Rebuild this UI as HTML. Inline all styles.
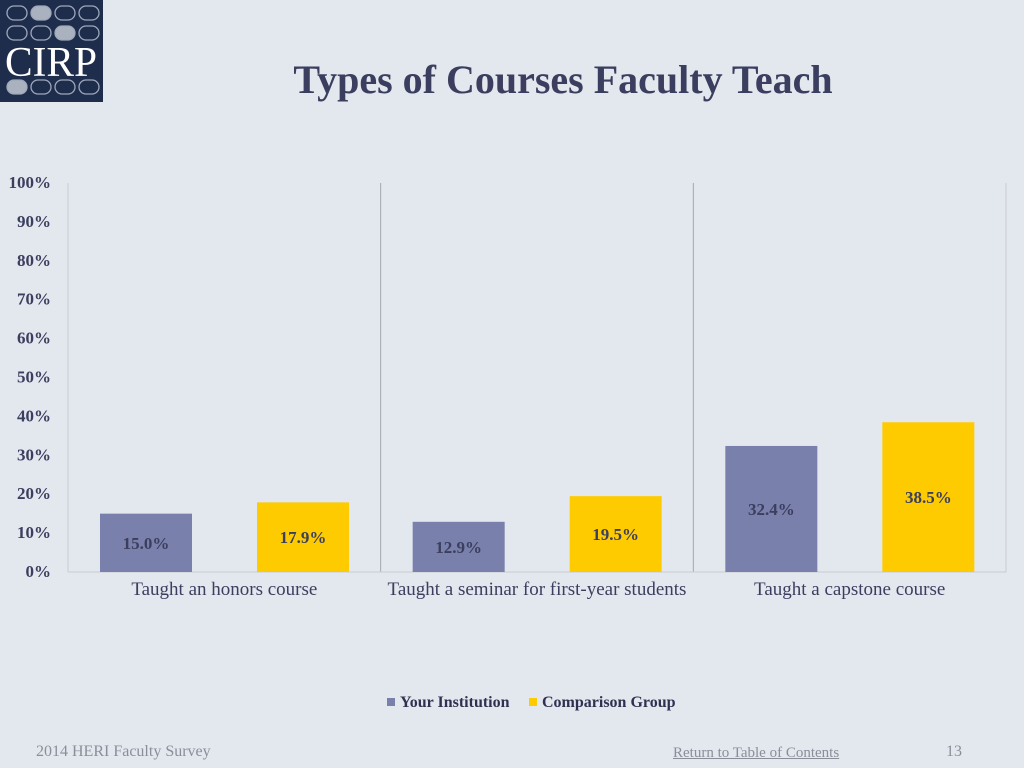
<!DOCTYPE html>
<html><head><meta charset="utf-8"><style>
body{margin:0;width:1024px;height:768px;background:#e3e7ee;font-family:"Liberation Serif",serif;overflow:hidden;position:relative}
#logo{position:absolute;left:0;top:0;width:103px;height:102px;background:#1f2d4d}
.t{position:absolute;white-space:nowrap}
</style></head><body>
<div id="logo">
<svg width="103" height="102">
<g fill="none" stroke="#9fa8bb" stroke-width="1.3">
<rect x="7" y="6" width="20" height="14" rx="7"/><rect x="31" y="6" width="20" height="14" rx="7" fill="#aab2bf"/><rect x="55" y="6" width="20" height="14" rx="7"/><rect x="79" y="6" width="20" height="14" rx="7"/>
<rect x="7" y="26" width="20" height="14" rx="7"/><rect x="31" y="26" width="20" height="14" rx="7"/><rect x="55" y="26" width="20" height="14" rx="7" fill="#aab2bf"/><rect x="79" y="26" width="20" height="14" rx="7"/>
<rect x="7" y="80" width="20" height="14" rx="7" fill="#aab2bf"/><rect x="31" y="80" width="20" height="14" rx="7"/><rect x="55" y="80" width="20" height="14" rx="7"/><rect x="79" y="80" width="20" height="14" rx="7"/>
</g>
<text x="51" y="76" text-anchor="middle" fill="#fff" font-family="Liberation Serif" font-size="42" textLength="92" lengthAdjust="spacingAndGlyphs">CIRP</text>
</svg></div>
<div class="t" style="left:0;width:1126px;top:56px;text-align:center;font-size:40px;font-weight:bold;color:#3b3e5e">Types of Courses Faculty Teach</div>
<svg id="chart" width="1024" height="768" style="position:absolute;left:0;top:0"></svg>
<div class="t" style="left:36px;top:743px;font-size:16px;color:#8a8e99">2014 HERI Faculty Survey</div>
<div class="t" style="left:673px;top:745px;font-size:15px;color:#8a8e99;text-decoration:underline">Return to Table of Contents</div>
<div class="t" style="left:946px;top:743px;font-size:16px;color:#8a8e99">13</div>
<script>
const categories=["Taught an honors course","Taught a seminar for first-year students","Taught a capstone course"];
const institution=[15.0,12.9,32.4];
const comparison=[17.9,19.5,38.5];
const ticks=[0,10,20,30,40,50,60,70,80,90,100];
const seriesNames=["Your Institution","Comparison Group"];
const svg=document.getElementById('chart');const NS='http://www.w3.org/2000/svg';
const x0=68,x1=1006,yb=572,yt=183;
const y=v=>yb-(v/100)*(yb-yt);
const cw=(x1-x0)/categories.length;
function mk(tag,attrs,txt){const e=document.createElementNS(NS,tag);for(const k in attrs)e.setAttribute(k,attrs[k]);if(txt!=null)e.textContent=txt;svg.appendChild(e);return e;}
ticks.forEach(t=>{const e=mk('text',{x:51,y:y(t)+5,'text-anchor':'end','font-size':17,'font-weight':'bold',fill:'#3b3e5e','font-family':'Liberation Serif'},t+'%');

});
for(let i=0;i<=categories.length;i++){const l=mk('line',{x1:x0+i*cw,x2:x0+i*cw,y1:yt,y2:yb,stroke:i==0||i==categories.length?'#c8cbd2':'#a4a7ae','stroke-width':1});

}
const ax=mk('line',{x1:x0,x2:x1,y1:yb,y2:yb,stroke:'#c8cbd2'});


const bw=92,cols=['#7880ab','#fecb00'];
categories.forEach((c,i)=>{const cx=x0+i*cw;
[institution[i],comparison[i]].forEach((v,s)=>{const bx=cx+32+s*157;
const r=mk('rect',{x:bx,y:y(v),width:bw,height:yb-y(v),fill:cols[s]});


const tx=mk('text',{x:bx+bw/2,y:(y(v)+yb)/2+6,'text-anchor':'middle','font-size':17,'font-weight':'bold',fill:'#3b3e5e','font-family':'Liberation Serif'},v.toFixed(1)+'%');

});
const cl=mk('text',{x:cx+cw/2,y:595,'text-anchor':'middle','font-size':19,fill:'#3b3e5e','font-family':'Liberation Serif'},c);

});
const lx=[387,529];
seriesNames.forEach((n,s)=>{const r=mk('rect',{x:lx[s],y:698,width:8,height:8,fill:cols[s]});


const t=mk('text',{x:lx[s]+13,y:707,'font-size':16,'font-weight':'bold',fill:'#2f3150','font-family':'Liberation Serif'},n);

});
</script>
</body></html>
